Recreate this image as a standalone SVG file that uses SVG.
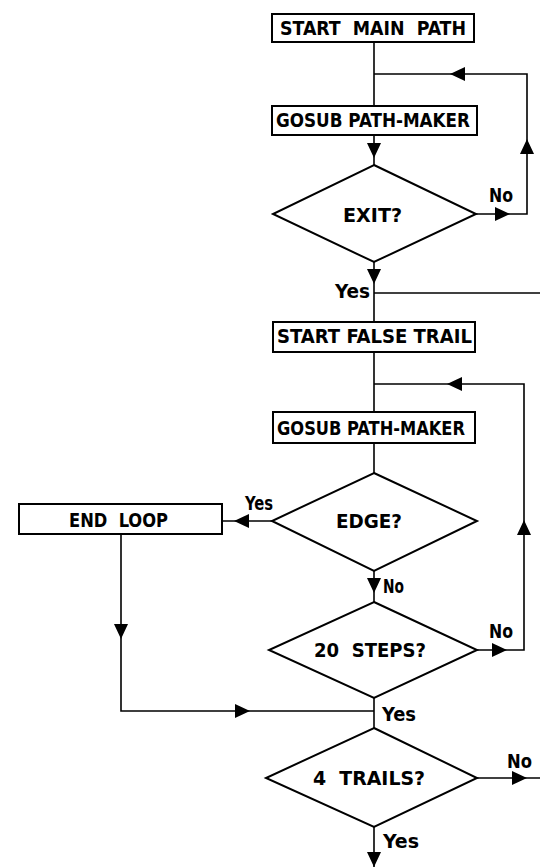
<svg xmlns="http://www.w3.org/2000/svg" xmlns:xlink="http://www.w3.org/1999/xlink" width="540" height="867" viewBox="0 0 540 867">
  <style>
    .box { fill: #fff; stroke: #000; stroke-width: 2; }
    .dia { fill: #fff; stroke: #000; stroke-width: 2; stroke-linejoin: miter; }
    .wire { fill: none; stroke: #000; stroke-width: 1.6; }
    .lbl { font-family: "DejaVu Sans Condensed", "DejaVu Sans", sans-serif; font-weight: bold; font-size: 19.5px; fill: #000; white-space: pre; }
    .tag { font-family: "DejaVu Sans Condensed", "DejaVu Sans", sans-serif; font-weight: bold; font-size: 19px; fill: #000; }
  </style>
  <defs>
    <!-- filled arrowhead, tip at origin, pointing right -->
    <path id="ah" d="M0,0 L-15,-7 L-15,7 Z" fill="#000"/>
  </defs>

  <rect width="540" height="867" fill="#fff"/>

  <g id="connectors">
    <!-- main path -->
    <path class="wire" d="M374,42 V106"/>
    <path class="wire" d="M374,135 V165"/>
    <path class="wire" d="M476,214 H527 V74 H374"/>
    <path class="wire" d="M374,262 V322"/>
    <path class="wire" d="M374,293 H540"/>
    <!-- false trail -->
    <path class="wire" d="M374,352 V412"/>
    <path class="wire" d="M374,443 V473"/>
    <path class="wire" d="M477,650 H524 V384 H374"/>
    <path class="wire" d="M272,521 H222"/>
    <path class="wire" d="M374,571 V602"/>
    <path class="wire" d="M121,534 V711 H374"/>
    <path class="wire" d="M374,698 V728"/>
    <path class="wire" d="M477,778 H540"/>
    <path class="wire" d="M374,827 V867"/>

    <!-- arrowheads -->
    <use xlink:href="#ah" transform="translate(450,74) rotate(180)"/>
    <use xlink:href="#ah" transform="translate(374,158) rotate(90)"/>
    <use xlink:href="#ah" transform="translate(510,214)"/>
    <use xlink:href="#ah" transform="translate(527,139) rotate(-90)"/>
    <use xlink:href="#ah" transform="translate(374,284) rotate(90)"/>
    <use xlink:href="#ah" transform="translate(447,384) rotate(180)"/>
    <use xlink:href="#ah" transform="translate(234,521) rotate(180)"/>
    <use xlink:href="#ah" transform="translate(121,639) rotate(90)"/>
    <use xlink:href="#ah" transform="translate(250,711)"/>
    <use xlink:href="#ah" transform="translate(374,593) rotate(90)"/>
    <use xlink:href="#ah" transform="translate(524,520) rotate(-90)"/>
    <use xlink:href="#ah" transform="translate(507,650)"/>
    <use xlink:href="#ah" transform="translate(527,778)"/>
    <use xlink:href="#ah" transform="translate(374,867) rotate(90)"/>

    <!-- branch labels -->
    <text class="tag" x="489" y="202" textLength="24" lengthAdjust="spacingAndGlyphs">No</text>
    <text class="tag" x="335" y="298" textLength="35" lengthAdjust="spacingAndGlyphs">Yes</text>
    <text class="tag" x="245" y="510" textLength="28" lengthAdjust="spacingAndGlyphs">Yes</text>
    <text class="tag" x="383" y="593" textLength="21" lengthAdjust="spacingAndGlyphs">No</text>
    <text class="tag" x="489" y="638" textLength="24" lengthAdjust="spacingAndGlyphs">No</text>
    <text class="tag" x="382" y="721" textLength="34" lengthAdjust="spacingAndGlyphs">Yes</text>
    <text class="tag" x="507" y="768" textLength="25" lengthAdjust="spacingAndGlyphs">No</text>
    <text class="tag" x="383" y="848" textLength="36" lengthAdjust="spacingAndGlyphs">Yes</text>
  </g>

  <g id="start-main-path">
    <rect class="box" x="272" y="14" width="202" height="28"/>
    <text class="lbl" x="280" y="35" textLength="186" lengthAdjust="spacingAndGlyphs">START  MAIN  PATH</text>
  </g>

  <g id="gosub-1">
    <rect class="box" x="272" y="106" width="205" height="29"/>
    <text class="lbl" x="276" y="127" textLength="194" lengthAdjust="spacingAndGlyphs">GOSUB PATH-MAKER</text>
  </g>

  <g id="exit">
    <polygon class="dia" points="374,165 476,214 374,262 273,214"/>
    <text class="lbl" x="343" y="222" textLength="59" lengthAdjust="spacingAndGlyphs">EXIT?</text>
  </g>

  <g id="start-false-trail">
    <rect class="box" x="273" y="322" width="202" height="30"/>
    <text class="lbl" x="277" y="343" textLength="195" lengthAdjust="spacingAndGlyphs">START FALSE TRAIL</text>
  </g>

  <g id="gosub-2">
    <rect class="box" x="273" y="412" width="202" height="31"/>
    <text class="lbl" x="277" y="435" textLength="188" lengthAdjust="spacingAndGlyphs">GOSUB PATH-MAKER</text>
  </g>

  <g id="edge">
    <polygon class="dia" points="374,473 477,521 374,571 272,521"/>
    <text class="lbl" x="336" y="528" textLength="66" lengthAdjust="spacingAndGlyphs">EDGE?</text>
  </g>

  <g id="end-loop">
    <rect class="box" x="19" y="504" width="203" height="30"/>
    <text class="lbl" x="69" y="527" textLength="99" lengthAdjust="spacingAndGlyphs">END  LOOP</text>
  </g>

  <g id="twenty-steps">
    <polygon class="dia" points="374,602 477,650 374,698 269,650"/>
    <text class="lbl" x="314" y="657" textLength="112" lengthAdjust="spacingAndGlyphs">20  STEPS?</text>
  </g>

  <g id="four-trails">
    <polygon class="dia" points="374,728 477,778 374,827 266,778"/>
    <text class="lbl" x="313" y="785" textLength="112" lengthAdjust="spacingAndGlyphs">4  TRAILS?</text>
  </g>
</svg>
